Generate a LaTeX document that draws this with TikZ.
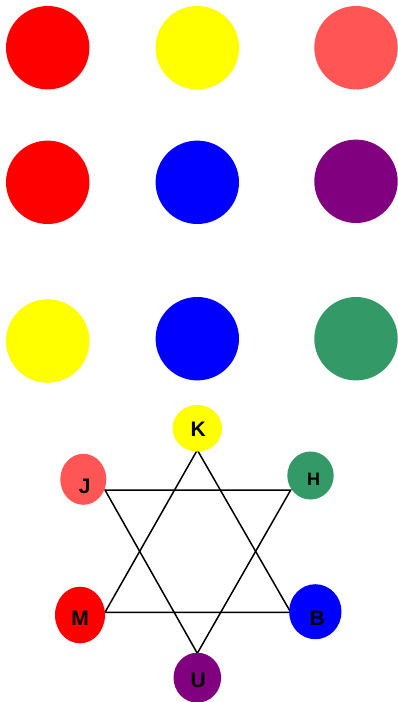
\documentclass[tikz,border=0pt]{standalone}
\usepackage{fontspec}
\setmainfont{Liberation Sans}
\usepackage{tikz}
\usetikzlibrary{shapes.geometric}
\definecolor{lightred}{HTML}{FF5555}
\definecolor{seagreen}{HTML}{339966}
\definecolor{plum}{HTML}{800080}
\definecolor{lemon}{HTML}{FFFF00}
\definecolor{pured}{HTML}{FF0000}
\definecolor{publue}{HTML}{0000FF}
\tikzstyle{dot} = [circle, minimum size=83.4pt, inner sep=0pt, draw=none]
\tikzstyle{spot} = [ellipse, inner sep=0pt, draw=none]
\tikzstyle{tag} = [font=\fontsize{21}{21}\selectfont\bfseries, text=black, inner sep=0pt]
\tikzstyle{edge} = [line width=1.5pt, black, line join=miter]

\begin{document}
\begin{tikzpicture}[x=1pt, y=-1pt]
\useasboundingbox (0,0) rectangle (397,702);

% Colour grid
\node (g11) [dot, fill=pured] at (47.7,47.7) {};
\node (g12) [dot, fill=lemon] at (197.3,47.7) {};
\node (g13) [dot, fill=lightred] at (356,47.7) {};
\node (g21) [dot, fill=pured] at (47.7,182.3) {};
\node (g22) [dot, fill=publue] at (197.3,182.3) {};
\node (g23) [dot, fill=plum] at (356,181.3) {};
\node (g31) [dot, fill=lemon] at (47.7,341) {};
\node (g32) [dot, fill=publue] at (197.3,338.7) {};
\node (g33) [dot, fill=seagreen] at (356,338.7) {};

% Star points
\coordinate (pK) at (197.3,450);
\coordinate (pM) at (105,612.3);
\coordinate (pB) at (290.7,612.3);
\coordinate (pJ) at (105,490);
\coordinate (pH) at (290.7,490);
\coordinate (pU) at (197.3,653.3);

% Star
\draw [edge] (pK) -- (pM) -- (pB) -- cycle;
\draw [edge] (pJ) -- (pH) -- (pU) -- cycle;

% Letters
\node (K) [spot, fill=lemon, minimum width=49.4pt, minimum height=46.6pt,
  label={[tag, xshift=1pt, yshift=-1pt]center:K}] at (197.3,428.3) {};
\node (J) [spot, fill=lightred, minimum width=46pt, minimum height=51pt,
  label={[tag, xshift=1.5pt, yshift=-7pt]center:J}] at (83.3,479.3) {};
\node (H) [spot, fill=seagreen, minimum width=46.4pt, minimum height=48pt,
  label={[tag, font=\fontsize{18}{18}\selectfont\bfseries, xshift=3pt, yshift=-4pt]center:H}] at (310.5,475.5) {};
\node (M) [spot, fill=pured, minimum width=50pt, minimum height=56.6pt,
  label={[tag, yshift=-3.5pt]center:M}] at (80,615) {};
\node (B) [spot, fill=publue, minimum width=52.4pt, minimum height=55pt,
  label={[tag, xshift=2pt, yshift=-7pt]center:B}] at (315.3,611.7) {};
\node (U) [spot, fill=plum, minimum width=47.6pt, minimum height=50pt,
  label={[tag, xshift=1pt, yshift=-3pt]center:U}] at (197.3,677.7) {};

\end{tikzpicture}
\end{document}
